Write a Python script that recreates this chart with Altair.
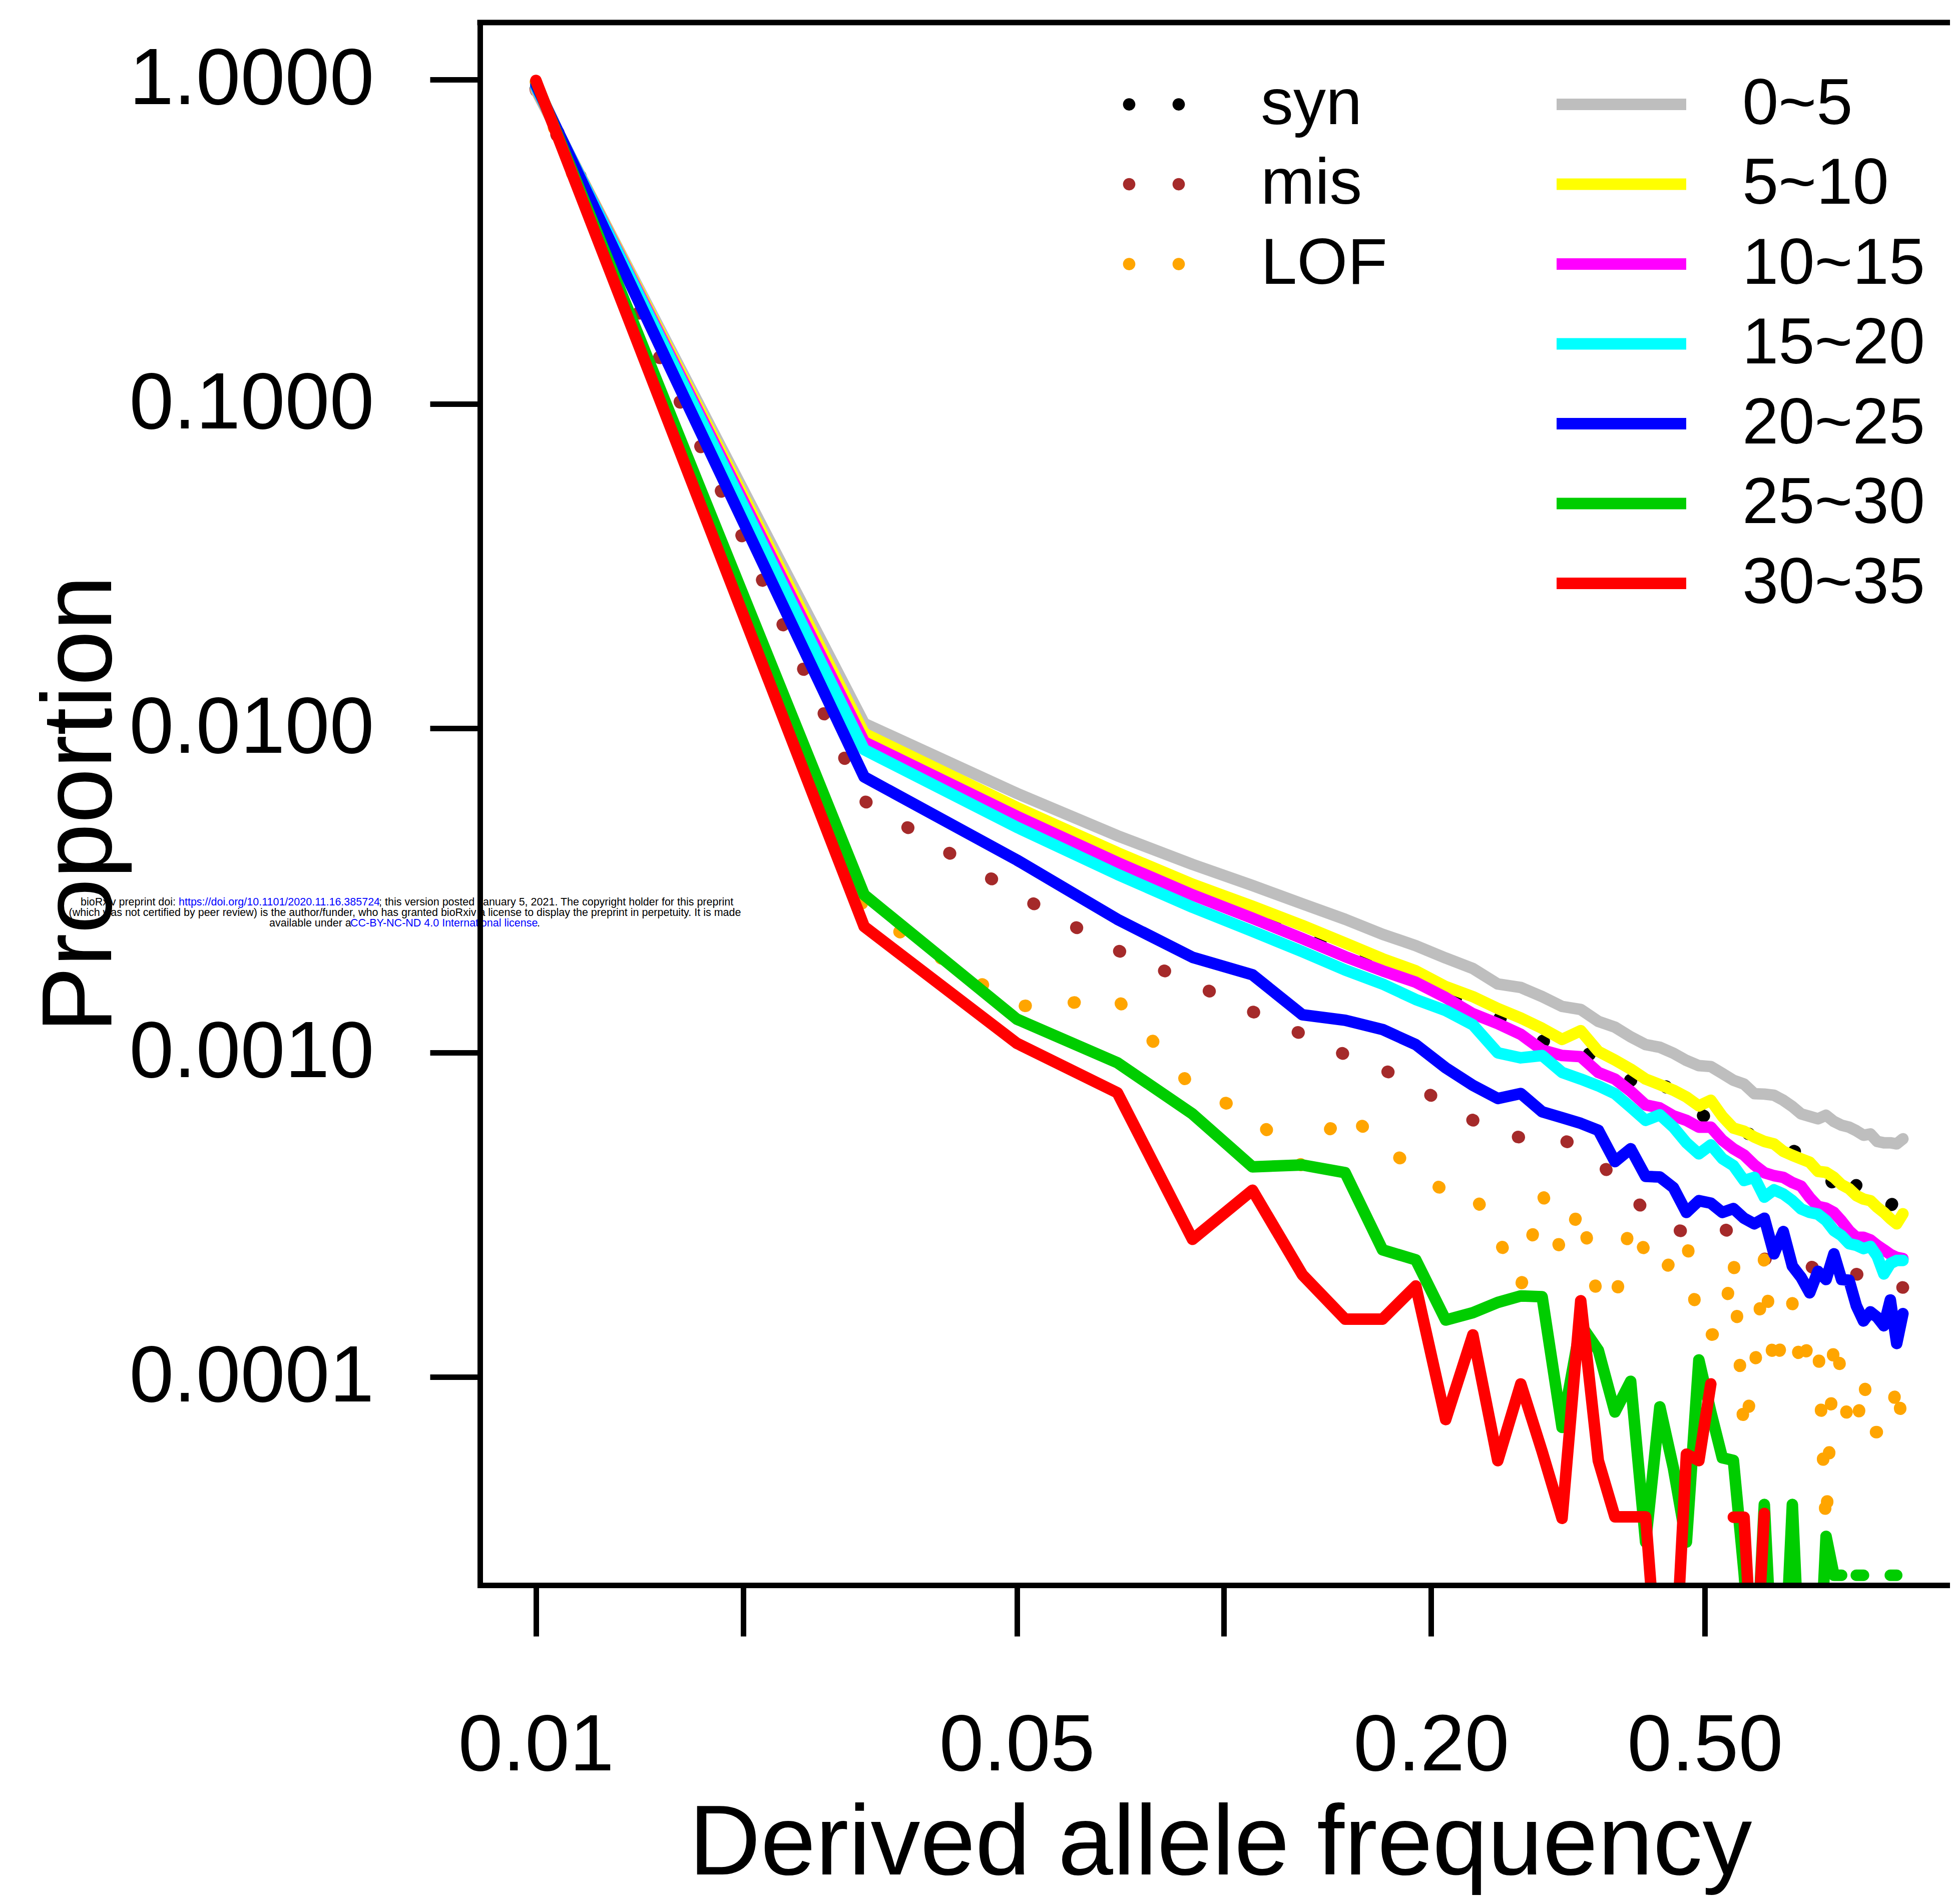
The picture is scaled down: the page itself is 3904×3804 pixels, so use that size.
import altair as alt
import pandas as pd

# ---------------- data ----------------
FREQ = [0.01, 0.03, 0.05, 0.07, 0.09, 0.11, 0.13, 0.15, 0.17, 0.19,
        0.21, 0.23, 0.25, 0.27, 0.29, 0.31, 0.33, 0.35, 0.37, 0.39,
        0.41, 0.43, 0.45, 0.47, 0.49, 0.51, 0.53, 0.55, 0.57, 0.59,
        0.61, 0.63, 0.65, 0.67, 0.69, 0.71, 0.73, 0.75, 0.77, 0.79,
        0.81, 0.83, 0.85, 0.87, 0.89, 0.91, 0.93, 0.95, 0.97]

SYN = [0.94, 0.00940, 0.00553, 0.00398, 0.00313, 0.00270, 0.00234, 0.00207, 0.00186, 0.00170,
       0.00152, 0.00140, 0.00129, 0.00120, 0.00109, 0.00105, 0.00104, 0.000940, 0.000884, 0.000823,
       0.000780, 0.000853, 0.000714, 0.000677, 0.000648, 0.000626, 0.000598, 0.000577, 0.000567, 0.000557,
       0.000538, 0.000524, 0.000510, 0.000501, 0.000484, 0.000467, 0.000447, 0.000427, 0.000391, 0.000340,
       0.000364, 0.000391, 0.000402, 0.000381, 0.000358, 0.000340, 0.000336, 0.000358, 0.000358]

MIS = [0.93, 0.00598, 0.00308, 0.00207, 0.00164, 0.00134, 0.00114, 0.000987, 0.000888, 0.000801,
       0.000683, 0.000620, 0.000567, 0.000548, 0.000538, 0.000538, 0.000515, 0.000467, 0.000405, 0.000364,
       0.000325, 0.000297, 0.000287, 0.000279, 0.000272, 0.000279, 0.000289, 0.000275, 0.000256, 0.000238,
       0.000232, 0.000226, 0.000222, 0.000220, 0.000218, 0.000221, 0.000212, 0.000215, 0.000209, 0.000213,
       0.000206, 0.000208, 0.000203, 0.000205, 0.000200, 0.000196, 0.000193, 0.000191, 0.000189]

LOF = [0.985, 0.00277, 0.00139, 0.00146, 0.000780, 0.000642, 0.000447, 0.000671, 0.000515, 0.000439,
       0.000371, 0.000371, 0.000270, 0.000189, 0.000371, 0.000238, 0.000340, 0.000170, 0.000170, 0.000305,
       0.000242, 0.000203, 0.000234, 0.000272, 0.000135, 0.000135, 0.000138, 0.000236, 6.65e-5, 0.000102,
       0.000236, 0.000102, 0.000135, 0.000169, 0.000101, 0.000135, 0.000133, 3.39e-5, 0.000135, 0.000102,
       6.77e-5, 6.77e-5, 0.000101, 6.77e-5, 6.77e-5, 6.77e-5, 6.77e-5, 9.91e-5, 6.77e-5]

G0_5 = [0.93, 0.01036, 0.00631, 0.00467, 0.00381, 0.00328, 0.00288, 0.00258, 0.00232, 0.00214,
        0.00196, 0.00182, 0.00163, 0.00159, 0.00149, 0.00139, 0.00136, 0.00125, 0.00120, 0.00112,
        0.00106, 0.00104, 0.000997, 0.000947, 0.000913, 0.000907, 0.000864, 0.000823, 0.000801, 0.000748,
        0.000746, 0.000740, 0.000714, 0.000683, 0.000648, 0.000637, 0.000626, 0.000642, 0.000614, 0.000598,
        0.000590, 0.000575, 0.000557, 0.000562, 0.000533, 0.000528, 0.000528, 0.000524, 0.000543]

G5_10 = [0.94, 0.00965, 0.00571, 0.00414, 0.00331, 0.00283, 0.00247, 0.00218, 0.00195, 0.00179,
         0.00160, 0.00149, 0.00137, 0.00128, 0.00119, 0.00110, 0.00117, 0.00101, 0.000950, 0.000891,
         0.000830, 0.000798, 0.000767, 0.000731, 0.000686, 0.000714, 0.000637, 0.000586, 0.000573, 0.000550,
         0.000533, 0.000524, 0.000497, 0.000483, 0.000471, 0.000460, 0.000431, 0.000428, 0.000413, 0.000392,
         0.000381, 0.000363, 0.000354, 0.000350, 0.000334, 0.000322, 0.000308, 0.000297, 0.000319]

G10_15 = [0.945, 0.00909, 0.00536, 0.00386, 0.00307, 0.00260, 0.00225, 0.00198, 0.00179, 0.00165,
          0.00148, 0.00132, 0.00123, 0.00114, 0.00102, 0.000981, 0.000973, 0.000870, 0.000830, 0.000761,
          0.000691, 0.000676, 0.000639, 0.000619, 0.000590, 0.000590, 0.000538, 0.000506, 0.000484, 0.000451,
          0.000427, 0.000418, 0.000413, 0.000398, 0.000388, 0.000358, 0.000336, 0.000332, 0.000322, 0.000303,
          0.000283, 0.000270, 0.000270, 0.000265, 0.000255, 0.000247, 0.000239, 0.000234, 0.000232]

G15_20 = [0.95, 0.00860, 0.00496, 0.00355, 0.00281, 0.00237, 0.00205, 0.00180, 0.00163, 0.00146,
          0.00135, 0.00122, 0.00100, 0.000965, 0.000981, 0.000870, 0.000830, 0.000791, 0.000748, 0.000680,
          0.000619, 0.000644, 0.000590, 0.000528, 0.000488, 0.000520, 0.000472, 0.000449, 0.000404, 0.000413,
          0.000359, 0.000378, 0.000367, 0.000350, 0.000330, 0.000322, 0.000318, 0.000304, 0.000283, 0.000273,
          0.000258, 0.000255, 0.000249, 0.000253, 0.000236, 0.000208, 0.000224, 0.000229, 0.000229]

G20_25 = [0.965, 0.00709, 0.00393, 0.00258, 0.00197, 0.00174, 0.00131, 0.00126, 0.00118, 0.00106,
          0.000899, 0.000794, 0.000723, 0.000749, 0.000658, 0.000631, 0.000606, 0.000577, 0.000462, 0.000506,
          0.000416, 0.000414, 0.000384, 0.000322, 0.000350, 0.000344, 0.000322, 0.000331, 0.000309, 0.000297,
          0.000309, 0.000240, 0.000281, 0.000220, 0.000203, 0.000182, 0.000212, 0.000200, 0.000240, 0.000200,
          0.000199, 0.000166, 0.000149, 0.000159, 0.000153, 0.000144, 0.000173, 0.000127, 0.000157]

G25_30 = [0.99, 0.00307, 0.00127, 0.000932, 0.000648, 0.000445, 0.000451, 0.000427, 0.000247, 0.000230,
          0.000150, 0.000158, 0.000170, 0.000178, 0.000177, 7.0e-5, 0.000145, 0.000121, 7.81e-5, 9.71e-5,
          3.10e-5, 8.1e-5, 5.24e-5, 3.10e-5, 0.000113, 7.81e-5, 5.64e-5, 5.54e-5, 2.5e-5, 1.0e-5,
          4.05e-5, 1.0e-5, 1.0e-5, 4.05e-5, 1.0e-5, None, 1.0e-5, 3.23e-5, 2.45e-5, 2.45e-5,
          None, 2.45e-5, 2.45e-5, None, None, None, 2.45e-5, 2.45e-5, None]

G30_35 = [0.995, 0.00245, 0.00107, 0.000753, 0.000266, 0.000377, 0.000207, 0.000151, 0.000151, 0.000191,
          7.40e-5, 0.000135, 5.53e-5, 9.53e-5, 5.9e-5, 3.67e-5, 0.000172, 5.53e-5, 3.71e-5, 3.71e-5,
          3.71e-5, 1.0e-5, 1.0e-5, 5.79e-5, 5.53e-5, 9.53e-5, None, 3.7e-5, 3.7e-5, 1.0e-5,
          3.8e-5, None, None, None, None, None, None, None, None, None,
          None, None, None, None, None, None, None, None, None]

DOTTED_NAMES = ["syn", "mis", "LOF"]
DOTTED_COLORS = ["#000000", "#A52A2A", "#FFA500"]
DOTTED_VALUES = [SYN, MIS, LOF]

GROUP_NAMES = ["0~5", "5~10", "10~15", "15~20", "20~25", "25~30", "30~35"]
GROUP_COLORS = ["#BEBEBE", "#FFFF00", "#FF00FF", "#00FFFF", "#0000FF", "#00CD00", "#FF0000"]
GROUP_VALUES = [G0_5, G5_10, G10_15, G15_20, G20_25, G25_30, G30_35]

X_TICKS = [0.01, 0.02, 0.05, 0.1, 0.2, 0.5]
Y_TICKS = [1.0, 0.1, 0.01, 0.001, 0.0001]

# ---------------- layout ----------------
W, H = 2937, 3122
X_DOMAIN = [0.008293, 1.1355]
Y_DOMAIN = [2.2838e-5, 1.5017]
FONT = "Liberation Sans"
# legend symbol for the dotted series: two round dots side by side
TWO_DOTS = ("M-1,0A0.2,0.2 0 1,0 -0.6,0A0.2,0.2 0 1,0 -1,0Z"
            "M0.6,0A0.2,0.2 0 1,0 1,0A0.2,0.2 0 1,0 0.6,0Z")


def frame(field, name, values):
    rows, seg, prev = [], 0, False
    for f, v in zip(FREQ, values):
        if v is None:
            if prev:
                seg += 1
            prev = False
            continue
        rows.append({"freq": f, "prop": v, field: name, "seg": f"{name}_{seg}"})
        prev = True
    return pd.DataFrame(rows)


x_axis = alt.Axis(
    values=X_TICKS,
    labelExpr="(datum.value > 0.015 && datum.value < 0.03) || (datum.value > 0.07 && datum.value < 0.15) ? '' : format(datum.value, '.2f')",
    tickSize=102, tickWidth=11, tickColor="black",
    domainColor="black", domainWidth=11, domainCap="square",
    labelFontSize=160, labelFont=FONT, labelColor="black",
    labelBaseline="alphabetic", labelPadding=267,
    labelFlush=False, labelOverlap=False, labelLimit=2000,
    grid=False,
    title="Derived allele frequency", titleFontSize=198, titleFont=FONT,
    titleFontWeight="normal", titleColor="black",
    titleX=1479, titleY=577, titleBaseline="alphabetic", titleAlign="center",
    titleLimit=5000, zindex=1,
)
y_axis = alt.Axis(
    values=Y_TICKS, format=".4f",
    tickSize=100, tickWidth=11, tickColor="black",
    domainColor="black", domainWidth=11, domainCap="square",
    labelFontSize=160, labelFont=FONT, labelColor="black",
    labelPadding=112, labelBaseline="middle",
    labelFlush=False, labelOverlap=False, labelLimit=2000,
    grid=False,
    title="Proportion", titleFontSize=198, titleFont=FONT,
    titleFontWeight="normal", titleColor="black",
    titleX=-738, titleY=1561, titleAngle=270, titleBaseline="alphabetic",
    titleAlign="center", titleLimit=5000, zindex=1,
)

x_enc = alt.X("freq:Q", scale=alt.Scale(type="log", domain=X_DOMAIN, nice=False), axis=x_axis)
y_enc = alt.Y("prop:Q", scale=alt.Scale(type="log", domain=Y_DOMAIN, nice=False), axis=y_axis)

# colour scale of the dotted lines (listed in reverse so that Vega-Lite keeps
# the legend of the legend-carrier layer separate from this un-legended scale)
dotted_line_scale = alt.Scale(domain=DOTTED_NAMES[::-1], range=DOTTED_COLORS[::-1])
dotted_legend_scale = alt.Scale(domain=DOTTED_NAMES, range=DOTTED_COLORS)
group_scale = alt.Scale(domain=GROUP_NAMES, range=GROUP_COLORS)

leg_dotted = alt.Legend(
    title=None, orient="none", legendX=1281.5, legendY=98.6, padding=0,
    symbolType=TWO_DOTS, symbolSize=15314, symbolStrokeWidth=0, symbolOpacity=1,
    labelFontSize=130, labelFont=FONT, labelColor="black", labelOffset=148.5,
    labelLimit=2000, clipHeight=130, rowPadding=29.5,
)
leg_solid = alt.Legend(
    title=None, orient="none", legendX=2139.5, legendY=98.6, padding=0,
    symbolType="stroke", symbolSize=67081, symbolStrokeWidth=23, symbolOpacity=1,
    labelFontSize=130, labelFont=FONT, labelColor="black", labelOffset=100.5,
    labelLimit=2000, clipHeight=130, rowPadding=29.5,
)


def note(text, x, y, color, align):
    return alt.Chart(pd.DataFrame({"t": [text]})).mark_text(
        align=align, baseline="middle", fontSize=21.5, font=FONT, color=color
    ).encode(text="t:N", x=alt.value(x), y=alt.value(y))


layers = [
    note("bioRxiv preprint doi:", -798, 1758, "black", "left"),
    note("https://doi.org/10.1101/2020.11.16.385724", -602, 1758, "#0000FF", "left"),
    note("; this version posted January 5, 2021. The copyright holder for this preprint", -202, 1758, "black", "left"),
    note("(which was not certified by peer review) is the author/funder, who has granted bioRxiv a license to display the preprint in perpetuity. It is made",
         -150, 1779, "black", "center"),
    note("available under a", -421, 1800, "black", "left"),
    note("CC-BY-NC-ND 4.0 International license", -259, 1800, "#0000FF", "left"),
    note(".", 114, 1800, "black", "left"),
]

for name, vals in zip(DOTTED_NAMES, DOTTED_VALUES):
    layers.append(
        alt.Chart(frame("kind", name, vals)).mark_line(
            strokeDash=[1.5, 96.5], strokeCap="round", strokeJoin="round",
            strokeWidth=25, clip=True
        ).encode(
            x=x_enc, y=y_enc,
            color=alt.Color("kind:N", scale=dotted_line_scale, legend=None),
            detail="seg:N",
        )
    )

# carrier of the legend for the dotted series (its rows are filtered out, so it draws nothing)
layers.append(
    alt.Chart(frame("kind", "syn", SYN)).transform_filter("datum.prop < 0").mark_point(
        filled=True, shape=TWO_DOTS, size=15314, strokeWidth=0, opacity=1
    ).encode(
        x=x_enc, y=y_enc,
        fill=alt.Fill("kind:N", scale=dotted_legend_scale, legend=leg_dotted),
    )
)

for name, vals in zip(GROUP_NAMES, GROUP_VALUES):
    layers.append(
        alt.Chart(frame("grp", name, vals)).mark_line(
            strokeCap="round", strokeJoin="round", strokeWidth=23, clip=True
        ).encode(
            x=x_enc, y=y_enc,
            stroke=alt.Stroke("grp:N", scale=group_scale, legend=leg_solid),
            detail="seg:N",
        )
    )

# top border of the plot box
layers.append(
    alt.Chart(pd.DataFrame({"a": [0]})).mark_rule(
        color="black", strokeWidth=11, strokeCap="square"
    ).encode(x=alt.value(0), x2=alt.value(W + 30), y=alt.value(0))
)

chart = alt.layer(*layers).properties(
    width=W, height=H,
    autosize=alt.AutoSizeParams(type="none"),
    padding={"left": 951, "top": 37, "right": 0, "bottom": 621},
    background="white",
).configure(font=FONT).configure_view(strokeWidth=0)

chart.save("out.html", embed_options={"renderer": "svg", "actions": False})
